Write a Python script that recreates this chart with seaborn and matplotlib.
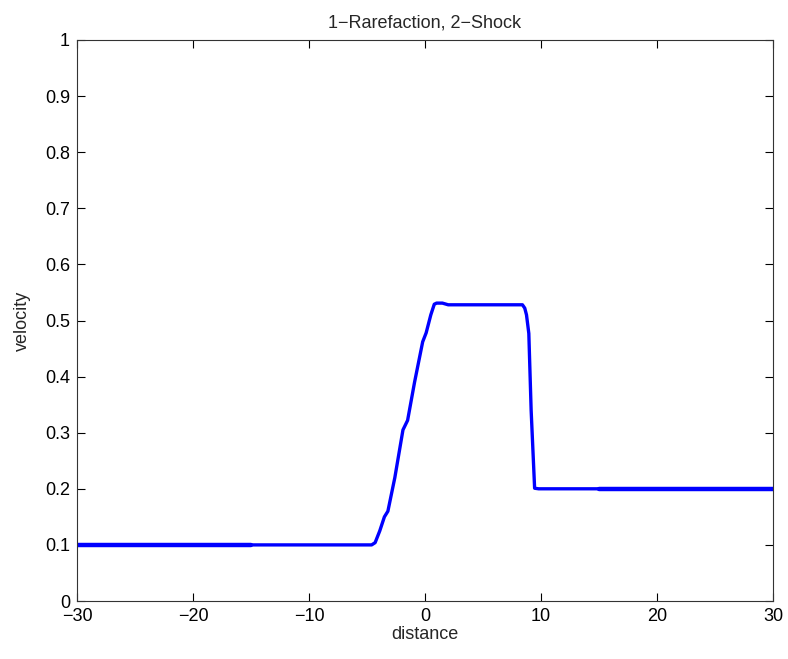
import matplotlib
matplotlib.use("Agg")
import matplotlib.pyplot as plt
import seaborn as sns
import pandas as pd

distance = [-30, -15, -4.6, -4.3, -3.9, -3.5, -3.2, -2.6, -1.9, -1.5, -0.9, -0.2, 0.1, 0.5, 0.8, 1.0, 1.5, 2.0, 5.0, 8.4, 8.6, 8.75, 8.95, 9.15, 9.45, 9.8, 15, 30]
velocity = [0.1, 0.1, 0.1, 0.104, 0.125, 0.15, 0.16, 0.22, 0.305, 0.322, 0.39, 0.462, 0.478, 0.51, 0.529, 0.531, 0.531, 0.528, 0.528, 0.528, 0.522, 0.51, 0.477, 0.34, 0.201, 0.2, 0.2, 0.2]

df = pd.DataFrame({"distance": distance, "velocity": velocity})

sns.set_style("white")
plt.rcParams["font.family"] = ["Liberation Sans", "DejaVu Sans"]

fig = plt.figure(figsize=(7.88, 6.59), dpi=100)
ax = fig.add_axes([77 / 788, 58 / 659, 696 / 788, 561 / 659])
sns.lineplot(data=df, x="distance", y="velocity", ax=ax, color="#0000ff", linewidth=2.4, sort=False)
# thicker overlay on outer flat parts
sns.lineplot(data=df.iloc[:2], x="distance", y="velocity", ax=ax, color="#0000ff", linewidth=3.2, sort=False)
sns.lineplot(data=df.iloc[-2:], x="distance", y="velocity", ax=ax, color="#0000ff", linewidth=3.2, sort=False)

ax.set_xlim(-30, 30)
ax.set_ylim(0, 1)
ax.set_xticks([-30, -20, -10, 0, 10, 20, 30])
ax.set_yticks([i / 10 for i in range(11)])
ax.set_yticklabels(["0", "0.1", "0.2", "0.3", "0.4", "0.5", "0.6", "0.7", "0.8", "0.9", "1"])
ax.tick_params(direction="in", length=6, width=0.8, top=True, right=True, bottom=True, left=True,
               labelsize=13, colors="black", pad=5)
for s in ax.spines.values():
    s.set_color("#333333")
    s.set_linewidth(0.8)
ax.set_xlabel("distance", fontsize=13, labelpad=1)
ax.set_ylabel("velocity", fontsize=13, labelpad=10)
ax.set_title("1\u2212Rarefaction, 2\u2212Shock", fontsize=13, pad=9)
fig.savefig("out.png", dpi=100)
